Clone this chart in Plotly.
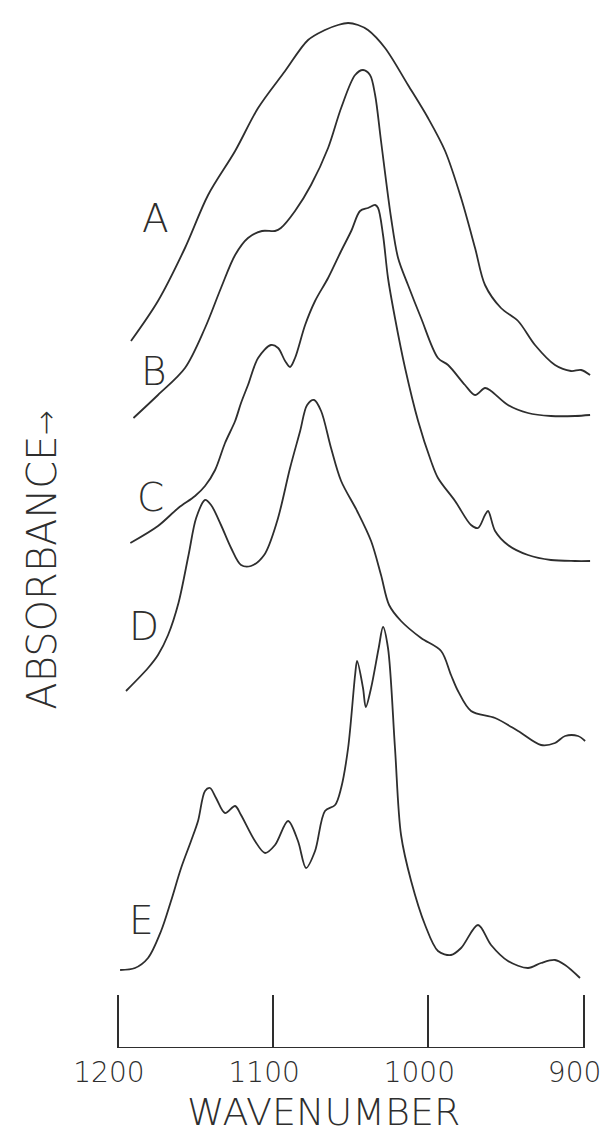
import plotly.graph_objects as go

# ---- data (wavenumber, absorbance in arbitrary offset units) ----
A_wn = [1191.6, 1174.2, 1156.8, 1141.9, 1124.5, 1109.7, 1092.3, 1077.5, 1066.6, 1058.2, 1051.7, 1045.3,
        1038.9, 1027.9, 1013.1, 1000.2, 989.2, 978.9, 969.9, 963.5, 953.2, 942.2, 931.3, 918.4,
        908.1, 901.6, 895.8]
A_ab = [7.07, 7.47, 8.00, 8.53, 8.97, 9.40, 9.77, 10.08, 10.18, 10.23, 10.25, 10.23,
        10.18, 10.00, 9.63, 9.30, 8.97, 8.50, 8.00, 7.63, 7.40, 7.27, 7.03, 6.83,
        6.77, 6.78, 6.73]

B_wn = [1190.0, 1174.2, 1156.8, 1143.9, 1133.6, 1124.5, 1116.2, 1107.2, 1098.8, 1095.0, 1085.9, 1075.6,
        1064.6, 1056.2, 1047.2, 1042.1, 1037.6, 1034.3, 1030.5, 1024.0, 1019.5, 1013.1, 1004.7, 993.8,
        987.3, 976.4, 969.9, 963.5, 959.6, 948.7, 935.8, 921.0, 905.5, 895.8]
B_ab = [6.30, 6.53, 6.80, 7.20, 7.60, 7.93, 8.10, 8.17, 8.17, 8.20, 8.37, 8.63,
        9.00, 9.40, 9.73, 9.78, 9.73, 9.53, 9.07, 8.30, 7.90, 7.63, 7.30, 6.90,
        6.83, 6.63, 6.53, 6.60, 6.57, 6.43, 6.35, 6.32, 6.32, 6.33]

C_wn = [1192.0, 1174.2, 1161.1, 1150.3, 1143.9, 1137.4, 1131.0, 1124.5, 1120.7, 1116.2, 1109.7, 1101.4,
        1096.8, 1092.3, 1089.1, 1085.9, 1079.4, 1073.0, 1064.6, 1056.2, 1049.7, 1044.0, 1038.9, 1034.3,
        1032.4, 1029.2, 1026.0, 1021.5, 1015.0, 1006.6, 998.3, 993.8, 982.8, 972.5, 968.0, 963.5,
        961.5, 957.0, 948.7, 935.8, 921.0, 905.5, 895.8]
C_ab = [5.05, 5.22, 5.40, 5.52, 5.62, 5.78, 6.05, 6.27, 6.45, 6.63, 6.90, 7.03,
        7.00, 6.87, 6.81, 6.90, 7.23, 7.47, 7.70, 7.97, 8.17, 8.37, 8.40, 8.43,
        8.40, 8.13, 7.70, 7.30, 6.80, 6.27, 5.87, 5.70, 5.47, 5.23, 5.20, 5.33,
        5.37, 5.17, 5.03, 4.93, 4.88, 4.87, 4.87]

D_wn = [1194.8, 1180.6, 1174.2, 1167.7, 1161.0, 1154.5, 1149.6, 1143.9, 1140.0, 1133.6, 1127.1, 1120.7,
        1114.3, 1105.8, 1097.4, 1089.1, 1082.6, 1078.1, 1073.6, 1069.1, 1062.7, 1056.2, 1045.9, 1036.9,
        1030.5, 1025.3, 1017.6, 1004.7, 991.8, 985.4, 980.9, 972.5, 957.0, 942.2, 927.4, 918.4,
        911.9, 903.6, 899.0]
D_ab = [3.57, 3.80, 3.93, 4.13, 4.45, 4.93, 5.30, 5.48, 5.43, 5.23, 5.00, 4.83,
        4.82, 4.93, 5.27, 5.80, 6.17, 6.43, 6.48, 6.37, 6.00, 5.67, 5.37, 5.07,
        4.73, 4.43, 4.27, 4.10, 3.97, 3.73, 3.57, 3.37, 3.30, 3.17, 3.03, 3.05,
        3.12, 3.12, 3.07]

E_wn = [1198.6, 1189.0, 1180.6, 1172.2, 1165.8, 1159.3, 1152.9, 1148.4, 1143.9, 1140.7, 1136.8, 1131.0,
        1124.5, 1120.7, 1111.7, 1105.2, 1098.8, 1090.4, 1084.0, 1078.8, 1073.0, 1066.6, 1060.1, 1056.2,
        1051.7, 1047.2, 1045.9, 1042.1, 1040.3, 1036.9, 1032.0, 1029.2, 1026.0, 1021.5, 1017.6, 1011.1,
        1002.1, 993.8, 985.4, 978.9, 968.0, 959.6, 948.7, 935.8, 927.4, 918.4, 911.9, 902.3]
E_ab = [0.78, 0.80, 0.90, 1.17, 1.47, 1.80, 2.07, 2.27, 2.57, 2.60, 2.50, 2.35,
        2.42, 2.33, 2.07, 1.95, 2.03, 2.27, 2.07, 1.80, 1.97, 2.37, 2.43, 2.60,
        3.00, 3.73, 3.87, 3.60, 3.41, 3.60, 4.00, 4.21, 4.00, 3.00, 2.13, 1.67,
        1.23, 0.97, 0.93, 1.00, 1.23, 1.03, 0.87, 0.80, 0.85, 0.88, 0.83, 0.70]

curve_names = ["A", "B", "C", "D", "E"]
label_wn = [1176.1, 1176.8, 1179.3, 1183.2, 1185.1]
label_ab = [8.30, 6.77, 5.51, 4.22, 1.28]

tick_vals = [1200, 1100, 1000, 900]
tick_text = ["1200", "1100", "1000", "900"]
x_title = "WAVENUMBER"
y_title = "ABSORBANCE<span style='font-size:30px'>\u2192</span>"

INK = "#2e2e2e"
FONT = "DejaVu Sans"

fig = go.Figure()
for wn, ab in [(A_wn, A_ab), (B_wn, B_ab), (C_wn, C_ab), (D_wn, D_ab), (E_wn, E_ab)]:
    fig.add_trace(go.Scatter(x=wn, y=ab, mode="lines",
                             line=dict(color=INK, width=1.8, shape="spline", smoothing=0.9),
                             showlegend=False, hoverinfo="skip"))

for name, xw, ya in zip(curve_names, label_wn, label_ab):
    fig.add_annotation(x=xw, y=ya, xref="x", yref="y", text=name, showarrow=False,
                       font=dict(family=FONT, size=39, color=INK, weight=200),
                       xanchor="center", yanchor="middle")

fig.add_annotation(x=0.4388, y=-0.085, xref="paper", yref="paper", text=x_title, showarrow=False,
                   font=dict(family=FONT, size=38, color=INK, weight=200),
                   xanchor="center", yanchor="bottom")
fig.add_annotation(x=-0.135, y=0.474, xref="paper", yref="paper", text=y_title, showarrow=False,
                   textangle=-90,
                   font=dict(family=FONT, size=40, color=INK, weight=200),
                   xanchor="center", yanchor="middle")

# axis base line spanning only the labelled range
fig.add_shape(type="line", xref="x", yref="y", x0=tick_vals[0], x1=tick_vals[-1], y0=0, y1=0,
              line=dict(color=INK, width=1.8))

fig.update_xaxes(range=[1206.4, 890.7], tickvals=tick_vals, ticktext=tick_text,
                 ticks="inside", ticklen=53, tickwidth=1.8, tickcolor=INK,
                 showline=False, showgrid=False, zeroline=False,
                 tickfont=dict(family=FONT, size=28, color=INK, weight=200),
                 ticklabelstandoff=5, ticklabelshift=9)
fig.update_yaxes(range=[0, 10.3], showticklabels=False, ticks="", showline=False,
                 showgrid=False, zeroline=False)

fig.update_layout(width=614, height=1132, margin=dict(l=100, r=24, t=10, b=92),
                  paper_bgcolor="white", plot_bgcolor="white")

fig.write_html("out.html")
